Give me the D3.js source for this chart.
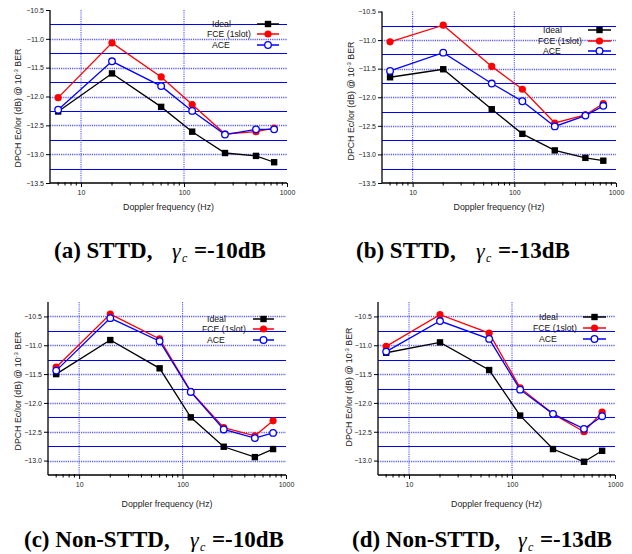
<!DOCTYPE html>
<html>
<head>
<meta charset="utf-8">
<script src="https://cdn.jsdelivr.net/npm/d3@7"></script>
<style>
  body { margin: 0; background: #fff; }
  svg { display: block; }
  .tick-lab { font-family: "Liberation Sans", Arial, sans-serif; font-size: 7px; fill: #222; }
  .ax-lab { font-family: "Liberation Sans", Arial, sans-serif; font-size: 8.8px; fill: #222; }
  .leg { font-family: "Liberation Sans", Arial, sans-serif; font-size: 8.7px; fill: #111; }
  .cap { font-family: "Liberation Serif", "Times New Roman", serif; font-size: 23px; font-weight: bold; fill: #000; }
  .gam { font-family: "Liberation Serif", "Times New Roman", serif; font-style: italic; fill: #000; }
</style>
</head>
<body>
<div id="chart"></div>
<script>
// --- data ---
const freqs = [6, 20, 60, 120, 250, 500, 750];
const seriesNames = ["Ideal", "FCE (1slot)", "ACE"];

const idealA = [-12.26, -11.60, -12.18, -12.61, -12.98, -13.03, -13.14];
const fceA   = [-12.02, -11.07, -11.66, -12.14, -12.65, -12.61, -12.55];
const aceA   = [-12.23, -11.39, -11.82, -12.25, -12.66, -12.57, -12.57];

const idealB = [-11.65, -11.51, -12.21, -12.64, -12.93, -13.06, -13.11];
const fceB   = [-11.03, -10.74, -11.46, -11.86, -12.45, -12.31, -12.11];
const aceB   = [-11.54, -11.22, -11.76, -12.07, -12.51, -12.32, -12.15];

const idealC = [-11.50, -10.91, -11.40, -12.25, -12.76, -12.94, -12.80];
const fceC   = [-11.38, -10.46, -10.89, -11.80, -12.43, -12.57, -12.31];
const aceC   = [-11.44, -10.53, -10.93, -11.81, -12.46, -12.61, -12.52];

const idealD = [-11.13, -10.95, -11.43, -12.22, -12.80, -13.02, -12.83];
const fceD   = [-11.02, -10.47, -10.79, -11.74, -12.19, -12.50, -12.16];
const aceD   = [-11.11, -10.58, -10.89, -11.77, -12.19, -12.45, -12.23];

const yTicksTop = [-10.5, -11.0, -11.5, -12.0, -12.5, -13.0, -13.5];
const yTicksBottom = [-10.5, -11.0, -11.5, -12.0, -12.5, -13.0];
const xTickLabels = [10, 100, 1000];
const xLabel = "Doppler frequency (Hz)";

const captionHeads = ["(a) STTD,", "(b) STTD,", "(c) Non-STTD,", "(d) Non-STTD,"];
const captionTails = ["=-10dB", "=-13dB", "=-10dB", "=-13dB"];

// --- panel layout ---
const panels = [
  { x0: 50,  x1: 287, y0: 10,  y1: 183, dom: [-13.5, -10.5], ticks: yTicksTop,
    data: [idealA, fceA, aceA], ylx: 18, yly: 108, xly: 210,
    legX: [212, 207, 212], legY: [24, 34, 45], legL: [257, 279],
    cap: { x: 54, g: 172, e: 194, y: 258 } },
  { x0: 382, x1: 616, y0: 11.5, y1: 183, dom: [-13.5, -10.5], ticks: yTicksTop,
    data: [idealB, fceB, aceB], ylx: 351, yly: 101, xly: 210,
    legX: [543, 538, 543], legY: [30, 41, 51], legL: [588, 611],
    cap: { x: 356, g: 476, e: 498, y: 258 } },
  { x0: 48,  x1: 286, y0: 302, y1: 475, dom: [-13.25, -10.25], ticks: yTicksBottom,
    data: [idealC, fceC, aceC], ylx: 18, yly: 391, xly: 507,
    legX: [207, 202, 207], legY: [319, 329, 340], legL: [253, 274],
    cap: { x: 24, g: 190, e: 212, y: 547 } },
  { x0: 378, x1: 615, y0: 302, y1: 475, dom: [-13.25, -10.25], ticks: yTicksBottom,
    data: [idealD, fceD, aceD], ylx: 349, yly: 387, xly: 507,
    legX: [539, 533, 539], legY: [317, 328, 339], legL: [583, 606],
    cap: { x: 352, g: 518, e: 540, y: 547 } }
];

const colors = ["#000000", "#ff0000", "#0000ff"];
const gridBlue = "#0000ff";

const svg = d3.select('#chart').append('svg')
  .attr('width', 632).attr('height', 554);

function marker(g, i, cx, cy) {
  if (i === 0) {
    g.append('rect').attr('x', cx - 3.2).attr('y', cy - 3.2)
      .attr('width', 6.4).attr('height', 6.4).attr('fill', '#000');
  } else if (i === 1) {
    g.append('circle').attr('cx', cx).attr('cy', cy).attr('r', 3.6).attr('fill', '#ff0000');
  } else {
    g.append('circle').attr('cx', cx).attr('cy', cy).attr('r', 3.3)
      .attr('fill', '#fff').attr('stroke', '#0000ff').attr('stroke-width', 1.3);
  }
}

panels.forEach((p, pi) => {
  const g = svg.append('g');
  const x = d3.scaleLog().domain([5, 1000]).range([p.x0, p.x1]);
  const y = d3.scaleLinear().domain(p.dom).range([p.y1, p.y0]);

  // horizontal grid: dotted at the labelled ticks, solid in between
  const lo = p.dom[0], hi = p.dom[1];
  const gridVals = d3.range(Math.round(lo * 4), Math.round(hi * 4) + 1).map(v => v / 4)
    .filter(v => v > lo + 0.01 && v < hi - 0.01);
  gridVals.forEach(v => {
    const major = Math.abs(v * 2 - Math.round(v * 2)) < 1e-6;
    g.append('line')
      .attr('x1', p.x0).attr('x2', p.x1)
      .attr('y1', Math.round(y(v)) + 0.5).attr('y2', Math.round(y(v)) + 0.5)
      .attr('stroke', major ? '#5a5aff' : gridBlue)
      .attr('stroke-width', major ? 1.3 : 1.2)
      .attr('stroke-dasharray', major ? '1.2,1' : null);
  });
  // vertical grid at decades
  [10, 100].forEach(v => {
    g.append('line')
      .attr('x1', x(v)).attr('x2', x(v))
      .attr('y1', p.y0).attr('y2', p.y1)
      .attr('stroke', '#5a5aff').attr('stroke-width', 1.1)
      .attr('stroke-dasharray', '1.2,1');
  });

  // y axis
  const yAxis = d3.axisLeft(y).tickValues(p.ticks)
    .tickFormat(d3.format('.1f')).tickSize(4).tickPadding(2);
  const yg = g.append('g').attr('transform', `translate(${p.x0},0)`).call(yAxis);
  yg.select('.domain').attr('d', `M0,${p.y0}V${p.y1}`).attr('stroke', '#000').attr('stroke-width', 1.3);
  yg.selectAll('.tick line').attr('stroke', '#000');
  yg.selectAll('.tick text').attr('class', 'tick-lab').attr('font-size', null).attr('font-family', null);

  // x axis
  const minor = [6, 7, 8, 9, 20, 30, 40, 50, 60, 70, 80, 90, 200, 300, 400, 500, 600, 700, 800, 900];
  const xg = g.append('g').attr('transform', `translate(0,${p.y1})`)
    .call(d3.axisBottom(x).tickValues(xTickLabels).tickFormat(d3.format('d')).tickSize(4).tickPadding(3));
  xg.select('.domain').attr('d', `M${p.x0},0H${p.x1}`).attr('stroke', '#000').attr('stroke-width', 1.3);
  xg.selectAll('.tick text').attr('class', 'tick-lab').attr('font-size', null).attr('font-family', null);
  xg.selectAll('.minor').data(minor).enter().append('line')
    .attr('x1', d => x(d)).attr('x2', d => x(d))
    .attr('y1', -1).attr('y2', 2.5).attr('stroke', '#000');

  // axis labels
  g.append('text').attr('class', 'ax-lab')
    .attr('x', (p.x0 + p.x1) / 2).attr('y', p.xly)
    .attr('text-anchor', 'middle').text(xLabel);
  const yl = g.append('text').attr('class', 'ax-lab')
    .attr('transform', `translate(${p.ylx + 3},${p.yly}) rotate(-90)`)
    .attr('text-anchor', 'middle');
  yl.append('tspan').text('DPCH Ec/Ior (dB) @ 10');
  yl.append('tspan').attr('dy', -3).attr('font-size', '6px').text('-3');
  yl.append('tspan').attr('dy', 3).text(' BER');

  // series
  const line = d3.line().x((d, i) => x(freqs[i])).y(d => y(d));
  p.data.forEach((vals, si) => {
    g.append('path').datum(vals)
      .attr('d', line).attr('fill', 'none')
      .attr('stroke', colors[si]).attr('stroke-width', 1.3);
    vals.forEach((v, i) => marker(g, si, x(freqs[i]), y(v)));
  });

  // legend
  seriesNames.forEach((name, si) => {
    const ly = p.legY[si];
    g.append('text').attr('class', 'leg')
      .attr('x', p.legX[si]).attr('y', ly + 3).text(name);
    g.append('line').attr('x1', p.legL[0]).attr('x2', p.legL[1])
      .attr('y1', ly).attr('y2', ly)
      .attr('stroke', colors[si]).attr('stroke-width', 1.5);
    marker(g, si, (p.legL[0] + p.legL[1]) / 2, ly);
  });

  // caption
  const c = p.cap;
  g.append('text').attr('class', 'cap').attr('x', c.x).attr('y', c.y).text(captionHeads[pi]);
  g.append('text').attr('class', 'gam').attr('x', c.g).attr('y', c.y)
    .attr('font-size', '22px').text('γ');
  g.append('text').attr('class', 'gam').attr('x', c.g + 10).attr('y', c.y + 4)
    .attr('font-size', '12px').text('c');
  g.append('text').attr('class', 'cap').attr('x', c.e).attr('y', c.y).text(captionTails[pi]);
});
</script>
</body>
</html>
